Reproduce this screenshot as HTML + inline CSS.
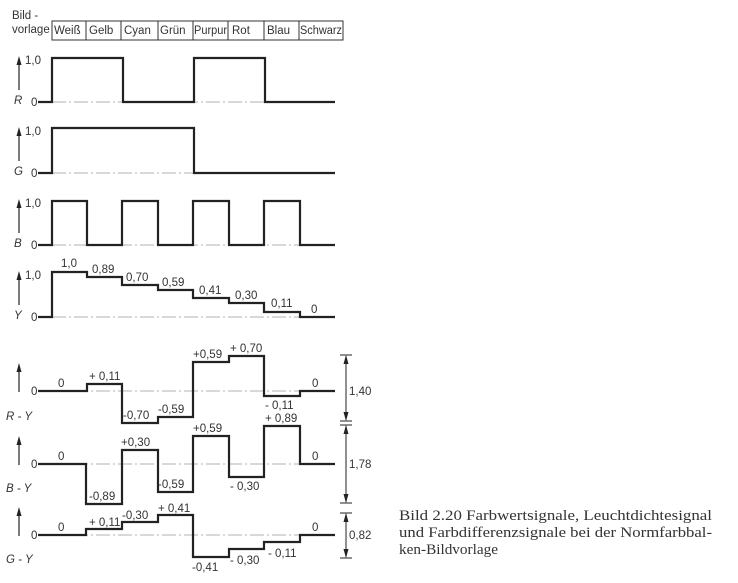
<!DOCTYPE html>
<html><head><meta charset="utf-8"><style>
html,body{margin:0;padding:0;background:#fff;}
svg{display:block;}
.s{font-family:"Liberation Sans",sans-serif;font-size:11.5px;fill:#333;}
.i{font-style:italic;}
.w{fill:none;stroke:#222;stroke-width:2.2;}
.d{stroke:#999;stroke-width:0.8;stroke-dasharray:14 3 2 3;fill:none;}
.t{fill:none;stroke:#333;stroke-width:1;}
.c{font-family:"Liberation Serif",serif;font-size:15px;fill:#333;}
</style></head><body>
<svg width="738" height="583" viewBox="0 0 738 583" xmlns="http://www.w3.org/2000/svg">
<!-- header -->
<text class="s" x="12" y="19">Bild -</text>
<text class="s" x="12" y="33">vorlage</text>
<rect x="52" y="21" width="291" height="19" class="t"/>
<g class="t"><path d="M86,21V40M121,21V40M158,21V40M193,21V40M228,21V40M264,21V40M299,21V40"/></g>
<g class="s"><text x="54" y="34">Weiß</text><text x="89" y="34">Gelb</text><text x="124" y="34">Cyan</text><text x="160" y="34">Grün</text><text x="194" y="34" textLength="33" lengthAdjust="spacingAndGlyphs">Purpur</text><text x="232" y="34">Rot</text><text x="267" y="34">Blau</text><text x="300" y="34" textLength="42" lengthAdjust="spacingAndGlyphs">Schwarz</text></g>

<!-- axis arrows -->
<g stroke="#222" stroke-width="1.2">
<path d="M19,90V62M19,161V133M19,233V205M19,305V277M19,392V369M19,465V442M19,536V513"/>
</g>
<g fill="#222">
<polygon points="16.5,65 19,56 21.5,65"/>
<polygon points="16.5,136 19,127 21.5,136"/>
<polygon points="16.5,208 19,199 21.5,208"/>
<polygon points="16.5,280 19,271 21.5,280"/>
<polygon points="16.5,372 19,363 21.5,372"/>
<polygon points="16.5,445 19,436 21.5,445"/>
<polygon points="16.5,516 19,507 21.5,516"/>
</g>
<g class="s">
<text x="25" y="64">1,0</text><text x="14" y="104" class="i">R</text><text x="31" y="106">0</text>
<text x="25" y="135">1,0</text><text x="14" y="175" class="i">G</text><text x="31" y="177">0</text>
<text x="25" y="207">1,0</text><text x="14" y="247" class="i">B</text><text x="31" y="249">0</text>
<text x="25" y="279">1,0</text><text x="14" y="319" class="i">Y</text><text x="31" y="321">0</text>
<text x="31" y="395">0</text><text x="6" y="420" class="i">R - Y</text>
<text x="31" y="468">0</text><text x="6" y="492" class="i">B - Y</text>
<text x="31" y="539">0</text><text x="6" y="563" class="i">G - Y</text>
</g>

<!-- dash-dot baselines -->
<g class="d"><path d="M52,102H335M52,173H335M52,245H335M52,317H335M52,391H335M52,464H335M52,535H335"/></g>

<!-- R -->
<path class="w" d="M38,102H52V58H123V102H194V58H265V102H335"/>
<!-- G -->
<path class="w" d="M38,173H52V128H194V173H335"/>
<!-- B -->
<path class="w" d="M38,245H52V201H87V245H122V201H158V245H193V201H229V245H264V201H300V245H335"/>
<!-- Y -->
<path class="w" d="M38,317H52V272H87V277H122V285H158V290H193V298H229V303H264V312H300V317H335"/>
<g class="s"><text x="61" y="267">1,0</text><text x="92" y="273">0,89</text><text x="126" y="281">0,70</text><text x="162" y="286">0,59</text><text x="199" y="294">0,41</text><text x="235" y="299">0,30</text><text x="271" y="307">0,11</text><text x="311" y="313">0</text></g>

<!-- R-Y -->
<path class="w" d="M38,391H87V384H122V423H158V417H193V362H229V356H264V396H300V391H335"/>
<g class="s"><text x="58" y="387">0</text><text x="89" y="380">+ 0,11</text><text x="123" y="419">-0,70</text><text x="158" y="413">-0,59</text><text x="193" y="358">+0,59</text><text x="230" y="352">+ 0,70</text><text x="265" y="409">- 0,11</text><text x="312" y="387">0</text></g>
<!-- B-Y -->
<path class="w" d="M38,464H86V504H122V450H158V492H193V436H229V477H264V426H300V464H335"/>
<g class="s"><text x="89" y="500">-0,89</text><text x="58" y="460">0</text><text x="121" y="446">+0,30</text><text x="158" y="488">-0,59</text><text x="193" y="432">+0,59</text><text x="230" y="490">- 0,30</text><text x="265" y="422">+ 0,89</text><text x="312" y="460">0</text></g>
<!-- G-Y -->
<path class="w" d="M38,535H86V529H122V522H158V515H193V557H229V549H264V542H300V535H335"/>
<g class="s"><text x="58" y="531">0</text><text x="89" y="526">+ 0,11</text><text x="122" y="519">-0,30</text><text x="158" y="512">+ 0,41</text><text x="192" y="571">-0,41</text><text x="230" y="564">- 0,30</text><text x="268" y="557">- 0,11</text><text x="312" y="531">0</text></g>

<!-- dimensions -->
<g stroke="#222" stroke-width="1">
<path d="M340,355H352M340,421H352M340,425H352M340,503H352M340,513H352M340,558H352"/>
<path d="M346,356V420M346,426V502M346,514V557"/>
</g>
<g fill="#222">
<polygon points="343.5,364 346,355 348.5,364"/><polygon points="343.5,412 346,421 348.5,412"/>
<polygon points="343.5,434 346,425 348.5,434"/><polygon points="343.5,494 346,503 348.5,494"/>
<polygon points="343.5,522 346,513 348.5,522"/><polygon points="343.5,549 346,558 348.5,549"/>
</g>
<g class="s"><text x="349" y="395">1,40</text><text x="349" y="468">1,78</text><text x="349" y="539">0,82</text></g>

<!-- caption -->
<text class="c" x="399" y="520" textLength="313" lengthAdjust="spacingAndGlyphs">Bild  2.20  Farbwertsignale, Leuchtdichtesignal</text>
<text class="c" x="399" y="537" textLength="313" lengthAdjust="spacingAndGlyphs">und Farbdifferenzsignale bei der Normfarbbal-</text>
<text class="c" x="399" y="554" textLength="99" lengthAdjust="spacingAndGlyphs">ken-Bildvorlage</text>
</svg>
</body></html>
